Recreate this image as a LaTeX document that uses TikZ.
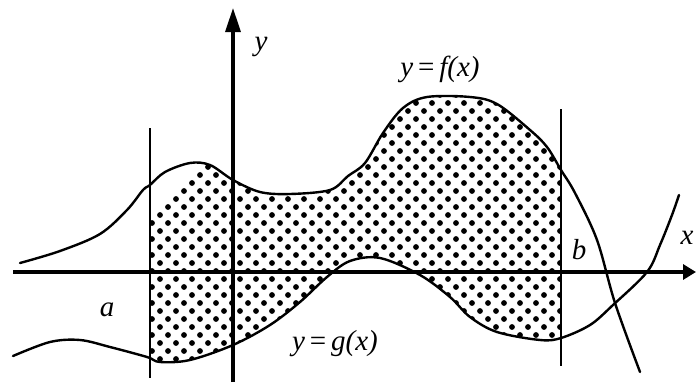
\documentclass[tikz,border=0pt]{standalone}
\usepackage{fontspec}
\setmainfont{Liberation Serif}
\newfontfamily\lblfont{Liberation Serif}
\usetikzlibrary{arrows.meta}
\begin{document}
\begin{tikzpicture}[x=1pt,y=-1pt,
  axisline/.style={line width=3.2pt},
  boundline/.style={line width=2.8pt},
  curveline/.style={line width=2.4pt,line join=round,line cap=round},
  lbl/.style={font=\lblfont\fontsize{29}{29}\selectfont\itshape,inner sep=0pt}]
\useasboundingbox (0,0) rectangle (696,383);
% shaded region
\begin{scope}
\clip (150,0) rectangle (561,383);
\clip plot[smooth,tension=0.55] coordinates {(20,263) (60,251) (100,234) (127,210) (143,190) (150,185) (165,172) (190,163) (210,165) (233,180) (260,192) (290,194) (330,190) (348,176) (365,163) (383,133) (403,108) (427,97) (470,97) (497,104) (530,130) (547,147) (561,170) (575,193) (597,240) (615,303) (640,372)}
 -- plot[smooth,tension=0.55] coordinates {(679,195) (672,215) (660,245) (647,272) (613,305) (590,325) (561,338) (540,340) (497,332) (470,317) (450,297) (420,275) (380,258) (350,261) (327,277) (300,302) (270,325) (233,345) (190,360) (160,362) (147,357) (110,347) (80,340) (50,342) (13,356)} -- cycle;
\foreach \i in {-14,...,22}{
  \foreach \j in {-2,...,52}{
    \pgfmathparse{int(mod(\i+\j,2))}
    \ifnum\pgfmathresult=1
      \fill (160+8*\j,207+8*\i) circle (2.9);
    \fi
  }
}
\end{scope}
% curves
\draw[curveline] plot[smooth,tension=0.55] coordinates {(20,263) (60,251) (100,234) (127,210) (143,190) (150,185) (165,172) (190,163) (210,165) (233,180) (260,192) (290,194) (330,190) (348,176) (365,163) (383,133) (403,108) (427,97) (470,97) (497,104) (530,130) (547,147) (561,170) (575,193) (597,240) (615,303) (640,372)};
\draw[curveline] plot[smooth,tension=0.55] coordinates {(13,356) (50,342) (80,340) (110,347) (147,357) (160,362) (190,360) (233,345) (270,325) (300,302) (327,277) (350,261) (380,258) (420,275) (450,297) (470,317) (497,332) (540,340) (561,338) (590,325) (613,305) (647,272) (660,245) (672,215) (679,195)};
% verticals
\coordinate (a1) at (150,128); \coordinate (a2) at (150,378);
\coordinate (b1) at (561,109); \coordinate (b2) at (561,366);
\draw[boundline] (a1) -- (a2);
\draw[boundline] (b1) -- (b2);
% axes
\coordinate (xs) at (13,272); \coordinate (xe) at (696,272);
\coordinate (ys) at (233,382); \coordinate (ye) at (233,8);
\draw[axisline,-{Triangle[length=13pt,width=15pt]}] (xs) -- (xe);
\draw[axisline,-{Triangle[length=24pt,width=15pt]}] (ys) -- (ye);
% labels
\node[lbl] (ylab) at (261,47) {y};
\node[lbl] (xlab) at (687,238) {x};
\node[lbl] (alab) at (107,310) {a};
\node[lbl] (blab) at (579,250) {b};
\node[lbl] (flab) at (440,69) {y\,{\upshape =}\,f({x})};
\node[lbl] (glab) at (335,344) {y\,{\upshape =}\,g({x})};
\end{tikzpicture}
\end{document}
